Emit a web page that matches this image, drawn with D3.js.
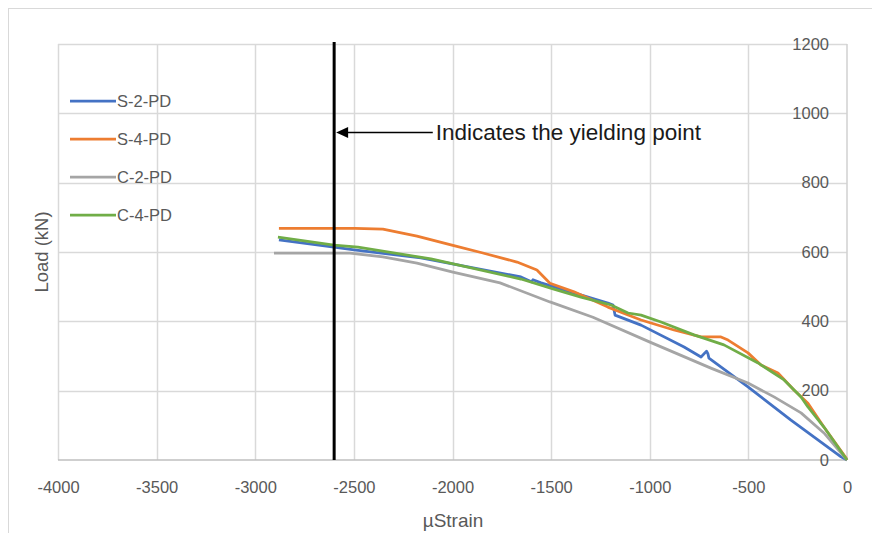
<!DOCTYPE html>
<html>
<head>
<meta charset="utf-8">
<script src="https://cdn.jsdelivr.net/npm/d3@7/dist/d3.min.js"></script>
<style>
  html, body { margin: 0; padding: 0; background: #fff; }
  svg { display: block; font-family: "Liberation Sans", Arial, sans-serif; }
</style>
</head>
<body>
<svg id="chart" width="872" height="533"></svg>
<script>
// Load vs. micro-strain for the four specimens
const seriesNames = ["S-2-PD", "S-4-PD", "C-2-PD", "C-4-PD"];
const seriesColors = ["#4472C4", "#ED7D31", "#A5A5A5", "#70AD47"];

const strainS2 = [-2880, -2601, -2499, -2160, -1653, -1600, -1592, -1551, -1384, -1212, -1186, -1176, -1044, -826, -740, -712, -705, -700, -502, -284, -30, 0];
const loadS2   = [635, 614, 606, 583, 528, 514, 520, 511, 482, 453, 447, 418, 389, 326, 297, 314, 306, 294, 211, 115, 9, 0];

const strainS4 = [-2880, -2494, -2353, -2180, -1998, -1846, -1673, -1572, -1506, -1384, -1212, -1110, -1044, -877, -740, -639, -603, -502, -436, -350, -269, -198, -117, -5, 0];
const loadS4   = [668, 668, 666, 646, 619, 597, 571, 548, 510, 485, 441, 418, 404, 375, 355, 355, 346, 309, 274, 251, 202, 164, 95, 6, 0];

const strainC2 = [-2905, -2520, -2353, -2180, -1998, -1759, -1506, -1288, -999, -690, -502, -370, -233, -117, 0];
const loadC2   = [597, 597, 586, 568, 542, 511, 456, 412, 340, 265, 222, 182, 136, 78, 0];

const strainC4 = [-2885, -2601, -2479, -2109, -1653, -1486, -1349, -1196, -1110, -1044, -943, -776, -624, -451, -319, -233, -198, -117, 0];
const loadC4   = [643, 620, 614, 580, 522, 493, 470, 447, 424, 418, 398, 361, 332, 280, 231, 182, 153, 95, 0];

const xTicks = [-4000, -3500, -3000, -2500, -2000, -1500, -1000, -500, 0];
const yTicks = [0, 200, 400, 600, 800, 1000, 1200];

const yieldStrain = -2600;
const annotationText = "Indicates the yielding point";

const strains = [strainS2, strainS4, strainC2, strainC4];
const loads = [loadS2, loadS4, loadC2, loadC4];
const series = seriesNames.map((name, i) => ({
  name, color: seriesColors[i],
  points: strains[i].map((s, j) => ({ s, l: loads[i][j] }))
}));

const svg = d3.select("#chart");
const plot = { left: 58, right: 847, top: 44, bottom: 460 };

const x = d3.scaleLinear().domain([-4000, 0]).range([plot.left, plot.right]);
const y = d3.scaleLinear().domain([0, 1200]).range([plot.bottom, plot.top]);

const labelColor = "#595959";
const plain = d => String(d);

// chart frame
svg.append("rect")
  .attr("x", 8.5).attr("y", 8.5)
  .attr("width", 900).attr("height", 600)
  .attr("fill", "none").attr("stroke", "#d9d9d9").attr("stroke-width", 1);

// gridlines
svg.append("g").selectAll("line").data(yTicks.filter(t => t > 0)).join("line")
  .attr("x1", plot.left).attr("x2", plot.right)
  .attr("y1", d => Math.round(y(d)) + 0.5).attr("y2", d => Math.round(y(d)) + 0.5)
  .attr("stroke", "#d9d9d9").attr("stroke-width", 1.5);
svg.append("g").selectAll("line").data(xTicks.filter(t => t < 0)).join("line")
  .attr("y1", plot.top).attr("y2", plot.bottom)
  .attr("x1", d => Math.round(x(d)) + 0.5).attr("x2", d => Math.round(x(d)) + 0.5)
  .attr("stroke", "#d9d9d9").attr("stroke-width", 1.5);

// axis lines
svg.append("line")
  .attr("x1", plot.left).attr("x2", plot.right)
  .attr("y1", y(0)).attr("y2", y(0))
  .attr("stroke", "#bfbfbf").attr("stroke-width", 1.5);
svg.append("line")
  .attr("x1", x(0)).attr("x2", x(0))
  .attr("y1", plot.top).attr("y2", plot.bottom)
  .attr("stroke", "#d0d0d0").attr("stroke-width", 1.5);

// x tick labels
const xAxis = d3.axisBottom(x).tickValues(xTicks).tickSize(0).tickFormat(plain);
const gx = svg.append("g").attr("transform", `translate(0,${plot.bottom})`).call(xAxis);
gx.select(".domain").remove();
gx.selectAll("text").attr("fill", labelColor)
  .style("font-size", "16.5px").attr("dy", "0.35em").attr("y", 27);

// y tick labels (drawn just left of the vertical axis at zero strain)
const yAxis = d3.axisLeft(y).tickValues(yTicks).tickSize(0).tickPadding(18).tickFormat(plain);
const gy = svg.append("g").attr("transform", `translate(${x(0)},0)`).call(yAxis);
gy.select(".domain").remove();
gy.selectAll("text").attr("fill", labelColor).style("font-size", "16.5px");

// series lines
const line = d3.line().x(d => x(d.s)).y(d => y(d.l));
svg.append("g").selectAll("path").data(series).join("path")
  .attr("d", d => line(d.points))
  .attr("fill", "none")
  .attr("stroke", d => d.color)
  .attr("stroke-width", 2.75)
  .attr("stroke-linejoin", "round");

// yielding point marker
svg.append("line")
  .attr("x1", x(yieldStrain)).attr("x2", x(yieldStrain))
  .attr("y1", plot.top - 2).attr("y2", plot.bottom)
  .attr("stroke", "#000").attr("stroke-width", 3);

const arrowY = y(945);
const arrowTail = x(-2100);
const tip = x(yieldStrain) + 2;
svg.append("line")
  .attr("x1", arrowTail).attr("x2", tip + 10)
  .attr("y1", arrowY).attr("y2", arrowY)
  .attr("stroke", "#000").attr("stroke-width", 1.5);
svg.append("path")
  .attr("d", `M${tip},${arrowY} L${tip + 12},${arrowY - 5.5} L${tip + 12},${arrowY + 5.5} Z`)
  .attr("fill", "#000");
svg.append("text")
  .attr("x", arrowTail + 3).attr("y", arrowY)
  .attr("dy", "0.35em")
  .attr("fill", "#1a1a1a")
  .style("font-size", "22.5px")
  .text(annotationText);

// legend
const legend = svg.append("g");
series.forEach((d, i) => {
  const ly = 101 + i * 38;
  legend.append("line")
    .attr("x1", 70).attr("x2", 116).attr("y1", ly).attr("y2", ly)
    .attr("stroke", d.color).attr("stroke-width", 2.75);
  legend.append("text")
    .attr("x", 117).attr("y", ly).attr("dy", "0.35em")
    .attr("fill", labelColor).style("font-size", "16.5px")
    .text(d.name);
});

// axis titles
svg.append("text")
  .attr("x", 453).attr("y", 520)
  .attr("text-anchor", "middle").attr("dy", "0.35em")
  .attr("fill", labelColor).style("font-size", "19px")
  .text("µStrain");
svg.append("text")
  .attr("transform", `translate(42,${(plot.top + plot.bottom) / 2}) rotate(-90)`)
  .attr("text-anchor", "middle").attr("dy", "0.35em")
  .attr("fill", labelColor).style("font-size", "18.5px")
  .text("Load (kN)");
</script>
</body>
</html>
